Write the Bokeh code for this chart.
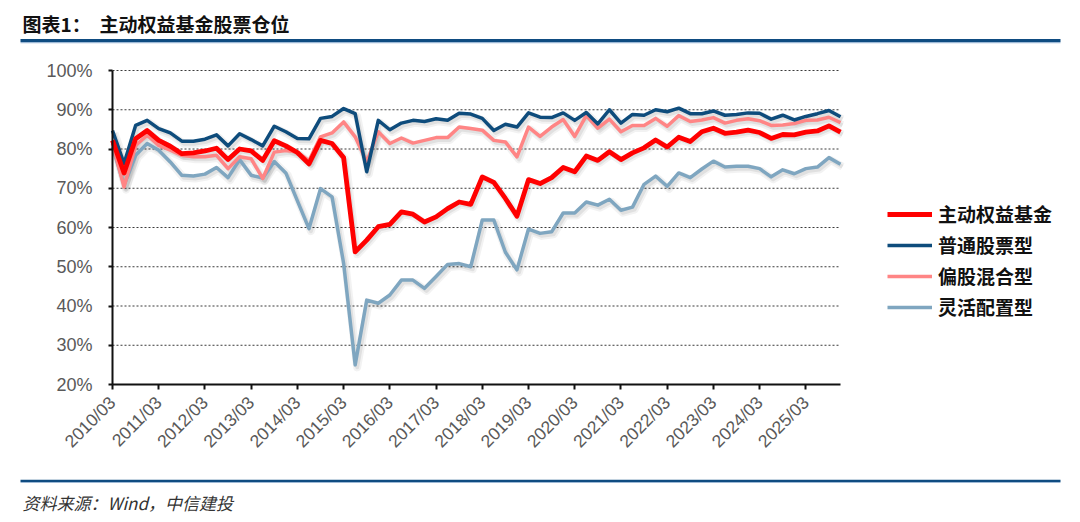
import math
from bokeh.plotting import figure
from bokeh.models import (Range1d, FixedTicker, Legend, LegendItem, PrintfTickFormatter,
                          Label, BoxAnnotation, ColumnDataSource)
from bokeh.transform import dodge
from bokeh.embed import file_html
from bokeh.resources import INLINE

# ---------------- data ----------------
year_labels = ["2010/03", "2011/03", "2012/03", "2013/03", "2014/03", "2015/03", "2016/03", "2017/03",
               "2018/03", "2019/03", "2020/03", "2021/03", "2022/03", "2023/03", "2024/03", "2025/03"]

series_names = ["主动权益基金", "普通股票型", "偏股混合型", "灵活配置型"]

active_equity = [82.2, 73.9, 82.6, 84.7, 82.2, 80.7, 78.8, 79.0, 79.5, 80.2,
                 77.3, 80.0, 79.5, 77.1, 82.1, 80.8, 79.1, 76.2, 82.2, 81.4,
                 77.8, 53.8, 56.8, 60.2, 60.8, 64.0, 63.4, 61.4, 62.7, 64.8,
                 66.5, 65.9, 72.9, 71.5, 67.4, 62.9, 72.2, 71.2, 72.7, 75.3,
                 74.2, 78.2, 77.1, 79.3, 77.3, 79.0, 80.3, 82.3, 80.5, 83.0,
                 81.9, 84.4, 85.3, 84.0, 84.3, 84.8, 84.2, 82.7, 83.7, 83.6,
                 84.3, 84.6, 85.9, 84.3]

common_stock = [84.7, 76.3, 86.0, 87.3, 85.2, 84.1, 82.0, 82.0, 82.5, 83.6,
                80.8, 83.9, 82.4, 80.8, 85.8, 84.4, 82.7, 82.6, 87.8, 88.3,
                90.3, 89.0, 74.2, 87.3, 84.9, 86.6, 87.3, 87.0, 87.7, 87.3,
                89.1, 88.9, 87.8, 84.7, 86.3, 85.6, 89.2, 88.1, 88.0, 89.2,
                87.3, 89.3, 86.4, 90.0, 86.6, 88.8, 88.6, 90.0, 89.5, 90.4,
                89.0, 89.0, 89.7, 88.6, 88.8, 89.2, 89.1, 87.6, 88.6, 87.4,
                88.3, 89.0, 89.8, 88.2]

equity_hybrid = [81.4, 70.3, 80.9, 83.5, 80.9, 79.7, 78.4, 78.0, 78.0, 78.4,
                 75.0, 78.0, 77.5, 72.5, 79.2, 79.6, 79.2, 77.0, 83.1, 84.1,
                 86.9, 83.1, 76.7, 84.4, 81.4, 82.8, 81.5, 82.2, 82.9, 82.9,
                 85.6, 85.2, 84.8, 82.2, 81.8, 78.0, 85.6, 83.2, 85.6, 87.5,
                 83.2, 88.5, 85.3, 87.6, 84.4, 86.0, 86.0, 87.8, 85.8, 88.5,
                 87.0, 87.4, 88.0, 86.6, 87.3, 87.7, 87.2, 86.0, 86.1, 86.5,
                 87.3, 87.4, 88.1, 86.7]

flexible = [80.5, 70.8, 78.4, 81.4, 79.7, 76.7, 73.3, 73.1, 73.6, 75.3,
            72.7, 77.3, 73.3, 72.6, 76.8, 73.9, 66.8, 59.7, 69.9, 67.8,
            50.9, 25.0, 41.5, 40.7, 42.8, 46.6, 46.6, 44.5, 47.5, 50.6,
            50.8, 50.0, 61.9, 61.9, 53.7, 49.2, 59.6, 58.5, 58.9, 63.7,
            63.7, 66.5, 65.7, 67.2, 64.4, 65.2, 71.0, 73.1, 70.5, 73.9,
            72.7, 74.9, 76.9, 75.4, 75.6, 75.6, 75.0, 72.9, 74.7, 73.7,
            75.0, 75.4, 77.8, 76.1]

y_ticks = [20, 30, 40, 50, 60, 70, 80, 90, 100]

# ---------------- styles / geometry ----------------
C_RED = "#FF0000"
C_NAVY = "#0E4C7C"
C_PINK = "#FF8585"
C_LBLUE = "#7FA6C0"
RULE_DARK = "#0F4C81"
RULE_LIGHT = "#9DB9D6"
SANS = "Liberation Sans"
CJK = "Noto Sans CJK SC"

W, H = 1080, 522
n = len(active_equity)
xs = list(range(n))

# pixel placement of the data area inside the canvas
AX_LEFT, AX_RIGHT = 112, 840      # x of first / last quarter
AX_TOP, AX_BOTTOM = 70, 384       # y of 100% / 20%
Y_MIN, Y_MAX = 20, 100
ppq = (AX_RIGHT - AX_LEFT) / (n - 1)
ppp = (AX_BOTTOM - AX_TOP) / (Y_MAX - Y_MIN)


def X(px):   # canvas pixel -> data x
    return (px - AX_LEFT) / ppq


def Y(py):   # canvas pixel -> data y
    return Y_MIN + (AX_BOTTOM - py) / ppp


p = figure(width=W, height=H, x_range=Range1d(X(0), X(W)), y_range=Range1d(Y(H), Y(0)),
           toolbar_location=None, output_backend="svg", min_border=0,
           outline_line_color=None)
p.xgrid.visible = False
p.ygrid.visible = False

src = ColumnDataSource(dict(x=xs, a=active_equity, c=common_stock, h=equity_hybrid, f=flexible))

# dashed gridlines limited to the data span
p.segment(x0=[0] * len(y_ticks), x1=[n - 1] * len(y_ticks), y0=y_ticks, y1=y_ticks,
          line_color="#3a3a3a", line_width=1, line_dash="2 2")

# soft drop shadows (same data, shifted by a small offset)
for col in ("f", "h", "c", "a"):
    p.line(x=dodge("x", 2.0 / ppq), y=dodge(col, -2.5 / ppp), source=src,
           line_color="#000000", line_alpha=0.05, line_width=8, line_join="round")
    p.line(x=dodge("x", 2.0 / ppq), y=dodge(col, -2.5 / ppp), source=src,
           line_color="#000000", line_alpha=0.07, line_width=4, line_join="round")

r_lb = p.line("x", "f", source=src, line_color=C_LBLUE, line_width=3.5, line_join="round")
r_pk = p.line("x", "h", source=src, line_color=C_PINK, line_width=3.5, line_join="round")
r_nv = p.line("x", "c", source=src, line_color=C_NAVY, line_width=3.5, line_join="round")
r_rd = p.line("x", "a", source=src, line_color=C_RED, line_width=4.8, line_join="round")

xa = p.xaxis[0]
xa.fixed_location = Y_MIN
xa.ticker = FixedTicker(ticks=[4 * i for i in range(len(year_labels))])
xa.major_label_overrides = {4 * i: lab for i, lab in enumerate(year_labels)}
xa.bounds = (0, n - 1)
xa.major_label_orientation = math.pi / 4
xa.axis_line_width = 2
xa.axis_line_color = "#111111"
xa.major_tick_line_width = 2
xa.major_tick_line_color = "#111111"
xa.major_tick_out = 5
xa.major_tick_in = 0
xa.minor_tick_out = 0
xa.minor_tick_in = 0
xa.major_label_text_font = SANS
xa.major_label_text_font_size = "17.5px"
xa.major_label_text_color = "#595959"
xa.major_label_standoff = 10

ya = p.yaxis[0]
ya.fixed_location = 0
ya.ticker = FixedTicker(ticks=y_ticks)
ya.formatter = PrintfTickFormatter(format="%d%%")
ya.bounds = (Y_MIN, Y_MAX)
ya.axis_line_width = 2
ya.axis_line_color = "#111111"
ya.major_tick_line_width = 2
ya.major_tick_line_color = "#111111"
ya.major_tick_out = 4
ya.major_tick_in = 0
ya.minor_tick_out = 0
ya.minor_tick_in = 0
ya.major_label_text_font = SANS
ya.major_label_text_font_size = "18px"
ya.major_label_text_color = "#595959"
ya.major_label_standoff = 16

legend = Legend(items=[LegendItem(label=series_names[0], renderers=[r_rd]),
                       LegendItem(label=series_names[1], renderers=[r_nv]),
                       LegendItem(label=series_names[2], renderers=[r_pk]),
                       LegendItem(label=series_names[3], renderers=[r_lb])],
                location=(887, 202), orientation="vertical",
                glyph_width=45, glyph_height=22, label_height=22, spacing=4,
                label_standoff=6, padding=0, margin=0,
                border_line_color=None, background_fill_alpha=0,
                label_text_font=CJK, label_text_font_size="19px",
                label_text_font_style="bold", label_text_color="#111111")
p.add_layout(legend, "center")

# ---------------- header / footer decorations ----------------
for txt, px in (("图表1：", 22), ("主动权益基金股票仓位", 99)):
    p.add_layout(Label(x=X(px), y=Y(23), text=txt, text_font=CJK, text_font_size="19px",
                       text_font_style="bold", text_baseline="middle", text_align="left",
                       text_color="#111111"))

for top_px, bot_px, colr in ((38.5, 41.5, RULE_DARK), (41.6, 42.8, RULE_LIGHT),
                             (479.2, 481.4, RULE_DARK), (481.5, 482.6, RULE_LIGHT)):
    p.add_layout(BoxAnnotation(left=X(20), right=X(1060), top=Y(top_px), bottom=Y(bot_px),
                               fill_color=colr, fill_alpha=1, line_color=None))

p.add_layout(Label(x=X(22), y=Y(501.5), text="资料来源：Wind，中信建投", text_font=CJK,
                   text_font_size="17px", text_font_style="italic", text_baseline="middle",
                   text_align="left", text_color="#333333"))

open("out.html", "w").write(file_html(p, INLINE))
